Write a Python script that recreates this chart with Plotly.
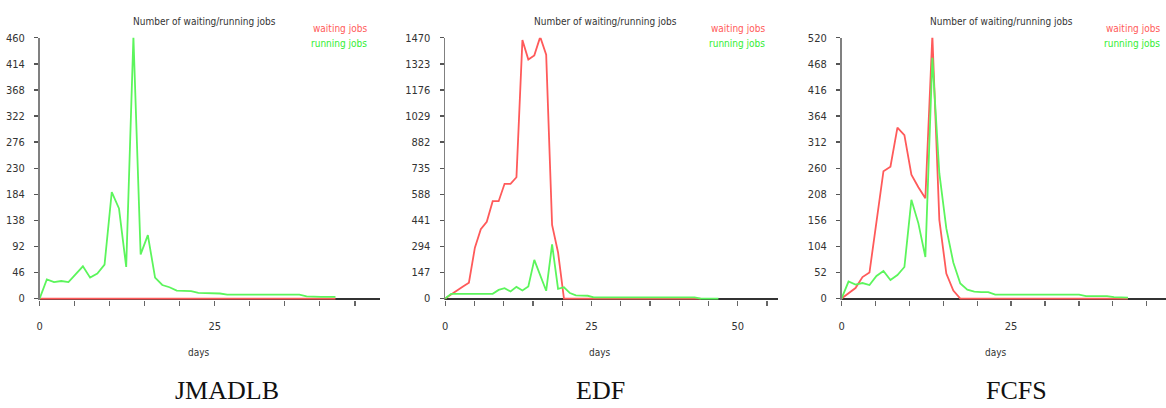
import plotly.graph_objects as go

W, H = 1166, 408

# ---------------- data ----------------
captions = ["JMADLB", "EDF", "FCFS"]
chart_title = "Number of waiting/running jobs"
series_names = ["waiting jobs", "running jobs"]
x_title = "days"

# JMADLB
jm_days = [0, 1.03, 2.06, 3.09, 4.12, 5.15, 6.18, 7.21, 8.24, 9.27, 10.3, 11.33, 12.36,
           13.39, 14.42, 15.45, 16.48, 17.51, 18.54, 19.57, 20.6, 21.63, 22.66, 23.69,
           24.72, 25.75, 26.78, 27.81, 28.84, 29.87, 30.9, 31.93, 32.96, 33.99, 35.02,
           36.05, 37.08, 38.11, 39.14, 40.17, 41.2, 42.23]
jm_waiting = [0, 0, 0, 0, 0, 0, 0, 0, 0, 0, 0, 0, 0, 0, 0, 0, 0, 0, 0, 0, 0,
              0, 0, 0, 0, 0, 0, 0, 0, 0, 0, 0, 0, 0, 0, 0, 0, 0, 0, 0, 0, 0]
jm_running = [0, 34, 29, 31, 29, 43, 57, 37, 44, 60, 188, 159, 56, 462, 78, 112, 37, 24,
              20, 14, 14, 13, 10, 10, 10, 9, 7, 7, 7, 7, 7, 7, 7, 7, 7, 7, 7, 4, 3, 3, 3, 3]
jm_yticks = [0, 46, 92, 138, 184, 230, 276, 322, 368, 414, 460]
jm_xticks = [0, 5, 10, 15, 20, 25, 30, 35, 40, 45]

# EDF
ed_days = [0, 1.02, 2.03, 3.05, 4.06, 5.08, 6.09, 7.11, 8.12, 9.14, 10.15, 11.17, 12.18,
           13.2, 14.21, 15.23, 16.24, 17.26, 18.27, 19.29, 20.3, 21.32, 22.33, 23.35,
           24.36, 25.38, 26.39, 27.41, 28.42, 29.44, 30.45, 31.47, 32.48, 33.5, 34.51,
           35.53, 36.54, 37.56, 38.57, 39.59, 40.6, 41.62, 42.63, 43.65, 44.66, 45.68, 46.69]
ed_waiting = [0, 25, 45, 68, 90, 287, 391, 433, 549, 549, 647, 647, 684, 1457, 1348, 1371,
              1475, 1375, 415, 260, 0, 0, 0, 0, 0, 0, 0, 0, 0, 0, 0, 0, 0, 0, 0, 0, 0,
              0, 0, 0, 0, 0, 0, 0]
ed_running = [0, 27, 27, 27, 27, 27, 27, 27, 27, 49, 59, 40, 66, 46, 68, 218, 128, 44, 305,
              55, 64, 31, 18, 16, 16, 7, 7, 7, 7, 7, 7, 7, 7, 7, 7, 7, 7, 7, 7, 7, 7, 7, 7,
              0, 0, 0, 0]
ed_yticks = [0, 147, 294, 441, 588, 735, 882, 1029, 1176, 1323, 1470]
ed_xticks = [0, 5, 10, 15, 20, 25, 30, 35, 40, 45, 50, 55]

# FCFS
fc_days = [0, 1.03, 2.06, 3.09, 4.12, 5.15, 6.18, 7.21, 8.24, 9.27, 10.3, 11.33, 12.36,
           13.39, 14.42, 15.45, 16.48, 17.51, 18.54, 19.57, 20.6, 21.63, 22.66, 23.69,
           24.72, 25.75, 26.78, 27.81, 28.84, 29.87, 30.9, 31.93, 32.96, 33.99, 35.02,
           36.05, 37.08, 38.11, 39.14, 40.17, 41.2, 42.23]
fc_waiting = [0, 11, 21, 43, 52, 153, 254, 263, 341, 326, 247, 222, 200, 525, 157, 50, 16,
              0, 0, 0, 0, 0, 0, 0, 0, 0, 0, 0, 0, 0, 0, 0, 0, 0, 0, 0, 0, 0, 0, 0, 0, 0]
fc_running = [0, 34, 28, 31, 27, 45, 55, 37, 47, 63, 197, 150, 83, 480, 250, 140, 72, 30,
              18, 14, 13, 13, 8, 8, 8, 8, 8, 8, 8, 8, 8, 8, 8, 8, 8, 5, 5, 5, 5, 3, 3, 2]
fc_yticks = [0, 52, 104, 156, 208, 260, 312, 364, 416, 468, 520]
fc_xticks = [0, 5, 10, 15, 20, 25, 30, 35, 40, 45]

x_labelled = [0, 25, 50]

# ---------------- styling / layout (pixels) ----------------
RED = "#ff5a5a"
GREEN = "#5cf55c"
NARROW = "Liberation Sans Narrow, Arial Narrow, DejaVu Sans Condensed, Liberation Sans, sans-serif"
SERIF = "Liberation Serif, Times New Roman, serif"

TOP_PX, ZERO_PX, BOTTOM_PX = 32.7, 300.7, 302.2

panels = [
    dict(days=jm_days, waiting=jm_waiting, running=jm_running, yticks=jm_yticks, xticks=jm_xticks,
         left=36.7, right=378.0, ppd=7.024, title_cx=202, legend_rx=367, days_cx=197, cap_cx=225),
    dict(days=ed_days, waiting=ed_waiting, running=ed_running, yticks=ed_yticks, xticks=ed_xticks,
         left=443.3, right=776.7, ppd=5.868, title_cx=604, legend_rx=766, days_cx=599, cap_cx=599),
    dict(days=fc_days, waiting=fc_waiting, running=fc_running, yticks=fc_yticks, xticks=fc_xticks,
         left=840.7, right=1166.0, ppd=6.8, title_cx=1001, legend_rx=1162, days_cx=996, cap_cx=1016),
]


def px_x(p):
    return p / W


def px_y(p):
    return 1 - p / H


fig = go.Figure()
layout = dict(
    width=W, height=H, autosize=False,
    margin=dict(l=0, r=0, t=0, b=0, pad=0),
    paper_bgcolor="white", plot_bgcolor="white",
    showlegend=False,
)
annotations = []

for i, p in enumerate(panels):
    n = "" if i == 0 else str(i + 1)
    xa, ya = "x" + n, "y" + n
    n_w = len(p["waiting"])
    n_r = len(p["running"])
    fig.add_trace(go.Scatter(x=p["days"][:n_w], y=p["waiting"], mode="lines",
                             line=dict(color=RED, width=1.8), xaxis=xa, yaxis=ya,
                             name=series_names[0], hoverinfo="skip"))
    fig.add_trace(go.Scatter(x=p["days"][:n_r], y=p["running"], mode="lines",
                             line=dict(color=GREEN, width=1.8), xaxis=xa, yaxis=ya,
                             name=series_names[1], hoverinfo="skip"))

    ymax = p["yticks"][-1]
    upp = ymax / (ZERO_PX - TOP_PX)
    ymin = -(BOTTOM_PX - ZERO_PX) * upp
    xmax = (p["right"] - p["left"]) / p["ppd"]

    layout["xaxis" + n] = dict(
        domain=[px_x(p["left"]), px_x(p["right"])], range=[0, xmax], anchor=ya,
        showline=False, zeroline=False, showgrid=False,
        ticks="outside", ticklen=5, tickwidth=1.3, tickcolor="#666",
        tickvals=p["xticks"],
        ticktext=[str(v) if v in x_labelled else "" for v in p["xticks"]],
        tickfont=dict(family=NARROW, size=11, color="#333"),
        ticklabelstandoff=11, fixedrange=True,
    )
    layout["yaxis" + n] = dict(
        domain=[px_y(BOTTOM_PX), px_y(TOP_PX)], range=[ymin, ymax], anchor=xa,
        showline=True, linecolor="#808080", linewidth=1.6,
        zeroline=True, zerolinecolor="#333", zerolinewidth=2,
        showgrid=False,
        ticks="outside", ticklen=4, tickwidth=1.3, tickcolor="#555",
        tickvals=p["yticks"], ticktext=[str(v) for v in p["yticks"]],
        tickfont=dict(family=NARROW, size=11, color="#333"),
        ticklabelstandoff=7, fixedrange=True,
    )

    annotations.append(dict(text=chart_title, x=px_x(p["title_cx"]), y=px_y(16),
                            xref="paper", yref="paper", showarrow=False,
                            xanchor="center", yanchor="middle",
                            font=dict(family=NARROW, size=10, color="#333")))
    annotations.append(dict(text=series_names[0], x=px_x(p["legend_rx"]), y=px_y(23),
                            xref="paper", yref="paper", showarrow=False,
                            xanchor="right", yanchor="middle",
                            font=dict(family=NARROW, size=10, color=RED)))
    annotations.append(dict(text=series_names[1], x=px_x(p["legend_rx"]), y=px_y(39),
                            xref="paper", yref="paper", showarrow=False,
                            xanchor="right", yanchor="middle",
                            font=dict(family=NARROW, size=10, color="#33ee33")))
    annotations.append(dict(text=x_title, x=px_x(p["days_cx"]), y=px_y(356),
                            xref="paper", yref="paper", showarrow=False,
                            xanchor="center", yanchor="middle",
                            font=dict(family=NARROW, size=10, color="#333")))
    annotations.append(dict(text=captions[i], x=px_x(p["cap_cx"]), y=px_y(395),
                            xref="paper", yref="paper", showarrow=False,
                            xanchor="center", yanchor="middle",
                            font=dict(family=SERIF, size=26, color="#111")))

layout["annotations"] = annotations
fig.update_layout(**layout)

fig.write_html("out.html", config={"displayModeBar": False, "staticPlot": True},
               post_script="document.body.style.margin='0px';")
